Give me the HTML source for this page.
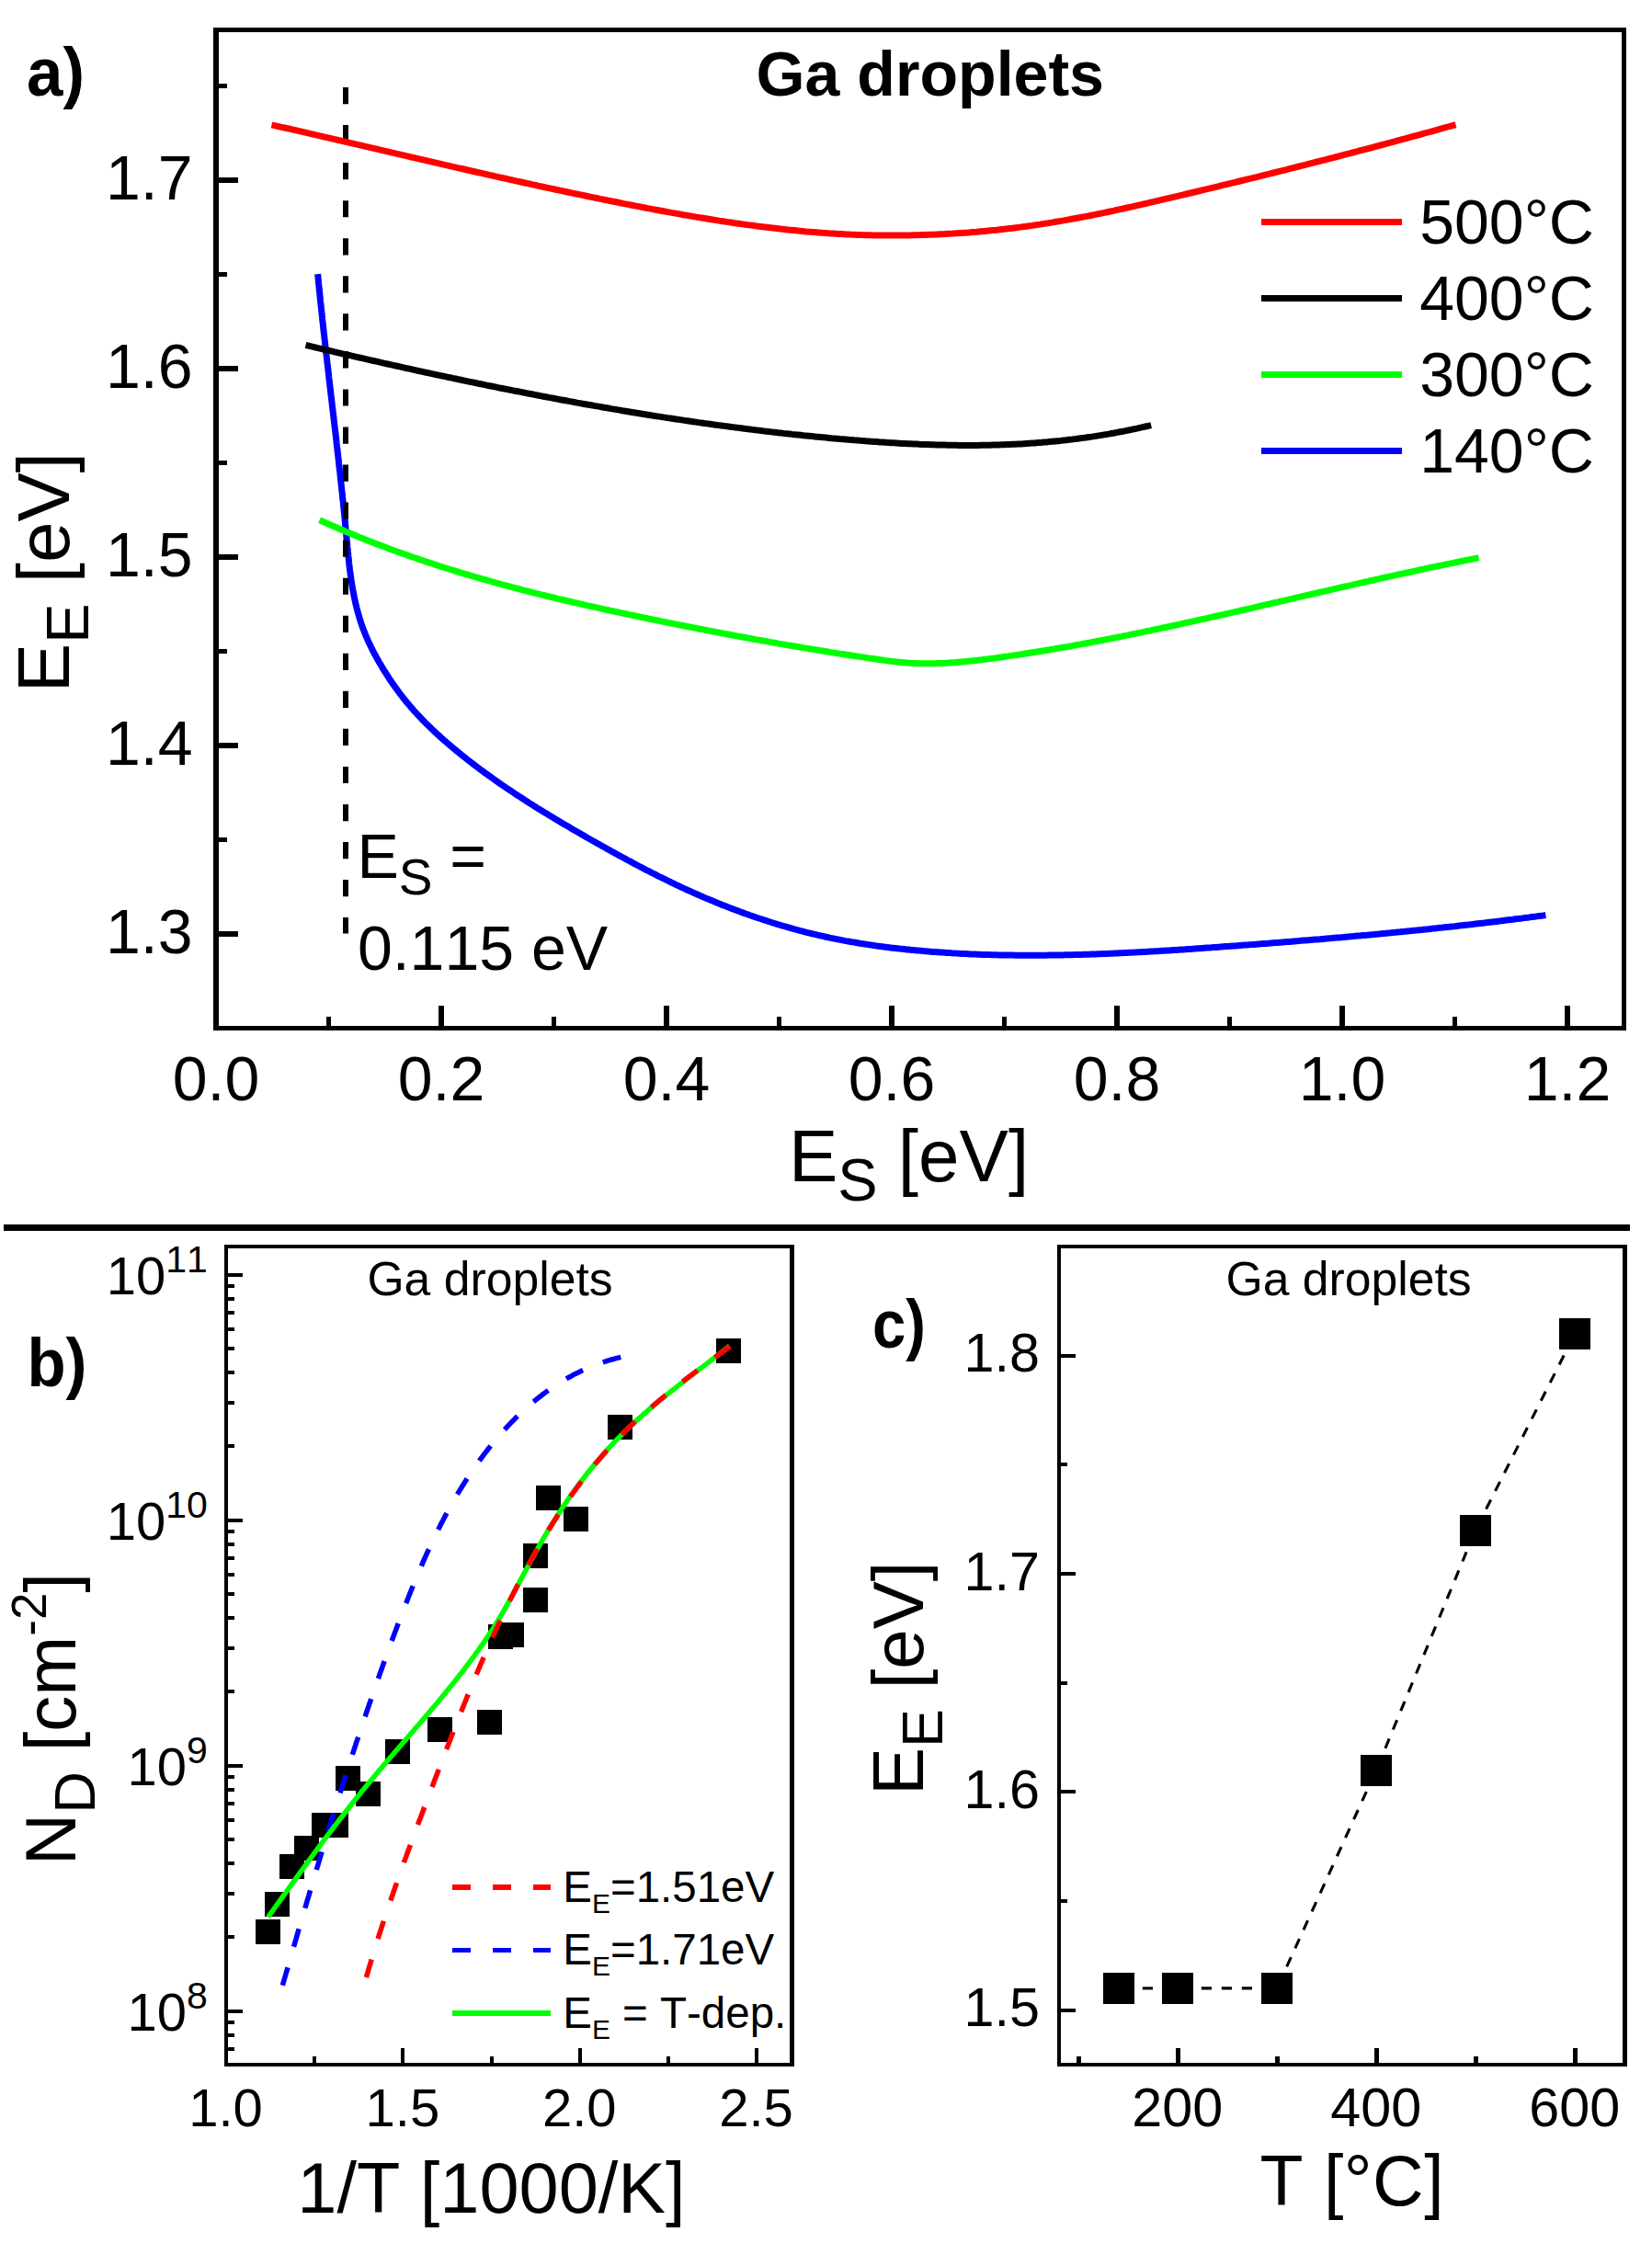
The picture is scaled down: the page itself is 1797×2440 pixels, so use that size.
<!DOCTYPE html>
<html lang="en"><head><meta charset="utf-8"><title>Ga droplets</title>
<style>html,body{margin:0;padding:0;background:#fff}svg text{fill:#000;font-kerning:none;font-variant-ligatures:none}</style></head>
<body>
<svg width="1797" height="2440" viewBox="0 0 1797 2440" style="display:block">
<rect width="1797" height="2440" fill="#fff"/>
<g id="plotA">
<path d="M345.6,298.1 L345.9,300.6 L346.1,303.2 L346.4,305.8 L346.6,308.3 L346.9,310.9 L347.1,313.5 L347.4,316.0 L347.7,318.6 L347.9,321.2 L348.2,323.7 L348.4,326.3 L348.7,328.8 L349.0,331.4 L349.3,334.0 L349.5,336.5 L349.8,339.1 L350.1,341.7 L350.4,344.2 L350.6,346.8 L350.9,349.3 L351.2,351.9 L351.5,354.4 L351.7,357.0 L352.0,359.6 L352.3,362.1 L352.6,364.7 L352.9,367.2 L353.2,369.8 L353.5,372.3 L353.7,374.9 L354.0,377.5 L354.3,380.0 L354.6,382.6 L354.9,385.1 L355.2,387.7 L355.5,390.2 L355.8,392.8 L356.1,395.3 L356.4,397.9 L356.7,400.4 L357.0,403.0 L357.3,405.5 L357.6,408.1 L357.8,410.6 L358.1,413.2 L358.4,415.7 L358.7,418.3 L359.0,420.8 L359.3,423.4 L359.6,426.0 L359.9,428.5 L360.2,431.1 L360.5,433.6 L360.8,436.2 L361.1,438.7 L361.4,441.3 L361.7,443.8 L362.0,446.4 L362.3,448.9 L362.6,451.5 L362.9,454.0 L363.2,456.6 L363.5,459.1 L363.8,461.7 L364.1,464.2 L364.4,466.8 L364.7,469.3 L365.0,471.9 L365.3,474.4 L365.6,477.0 L365.9,479.5 L366.1,482.1 L366.4,484.6 L366.7,487.2 L367.0,489.7 L367.3,492.3 L367.6,494.9 L367.9,497.4 L368.2,500.0 L368.5,502.5 L368.7,505.1 L369.0,507.6 L369.3,510.2 L369.6,512.7 L369.9,515.3 L370.2,517.9 L370.4,520.4 L370.7,523.0 L371.0,525.5 L371.3,528.1 L371.5,530.7 L371.8,533.2 L372.1,535.8 L372.4,538.3 L372.6,540.9 L372.9,543.5 L373.2,546.0 L373.4,548.6 L373.7,551.1 L373.9,553.7 L374.2,556.3 L374.5,558.8 L374.7,561.4 L375.0,564.0 L375.2,566.5 L375.5,569.1 L375.7,571.7 L376.0,574.2 L376.2,576.8 L376.5,579.4 L376.7,581.9 L376.9,584.5 L377.2,587.1 L377.4,589.7 L377.7,592.2 L377.9,594.8 L378.2,597.4 L378.4,599.9 L378.7,602.5 L378.9,605.1 L379.2,607.7 L379.5,610.2 L379.7,612.8 L380.0,615.3 L380.3,617.9 L380.6,620.5 L381.0,623.0 L381.3,625.6 L381.7,628.1 L382.0,630.7 L382.4,633.2 L382.8,635.7 L383.2,638.3 L383.6,640.8 L384.1,643.3 L384.6,645.8 L385.1,648.3 L385.6,650.9 L386.1,653.4 L386.7,655.9 L387.3,658.4 L387.9,660.8 L388.5,663.3 L389.2,665.8 L389.9,668.3 L390.6,670.7 L391.3,673.2 L392.1,675.6 L392.9,678.0 L393.7,680.5 L394.6,682.9 L395.5,685.3 L396.4,687.7 L397.4,690.1 L398.3,692.4 L399.4,694.8 L400.4,697.1 L401.5,699.5 L402.6,701.8 L403.7,704.1 L404.9,706.4 L406.0,708.7 L407.2,711.0 L408.5,713.2 L409.7,715.5 L411.0,717.8 L412.2,720.0 L413.5,722.2 L414.9,724.4 L416.2,726.7 L417.5,728.9 L418.9,731.0 L420.3,733.2 L421.7,735.4 L423.1,737.6 L424.5,739.7 L425.9,741.8 L427.4,744.0 L428.9,746.1 L430.4,748.2 L431.9,750.2 L433.4,752.3 L434.9,754.4 L436.5,756.4 L438.1,758.5 L439.7,760.5 L441.3,762.5 L442.9,764.5 L444.6,766.4 L446.2,768.4 L447.9,770.3 L449.6,772.3 L451.3,774.2 L453.1,776.1 L454.8,778.0 L456.6,779.8 L458.3,781.7 L460.1,783.5 L461.9,785.4 L463.7,787.2 L465.6,789.0 L467.4,790.8 L469.3,792.6 L471.1,794.4 L473.0,796.1 L474.9,797.9 L476.8,799.6 L478.7,801.4 L480.6,803.1 L482.5,804.8 L484.5,806.5 L486.4,808.2 L488.4,809.9 L490.3,811.5 L492.3,813.2 L494.3,814.8 L496.3,816.5 L498.2,818.1 L500.2,819.7 L502.2,821.4 L504.3,823.0 L506.3,824.6 L508.3,826.2 L510.3,827.7 L512.3,829.3 L514.4,830.9 L516.4,832.4 L518.5,834.0 L520.5,835.5 L522.6,837.1 L524.7,838.6 L526.7,840.1 L528.8,841.7 L530.9,843.2 L533.0,844.7 L535.1,846.2 L537.2,847.6 L539.3,849.1 L541.4,850.6 L543.5,852.1 L545.6,853.5 L547.7,855.0 L549.8,856.4 L551.9,857.9 L554.1,859.3 L556.2,860.7 L558.4,862.2 L560.5,863.6 L562.6,865.0 L564.8,866.4 L567.0,867.8 L569.1,869.2 L571.3,870.6 L573.4,872.0 L575.6,873.4 L577.8,874.7 L580.0,876.1 L582.1,877.5 L584.3,878.9 L586.5,880.2 L588.7,881.6 L590.9,882.9 L593.1,884.3 L595.3,885.6 L597.5,886.9 L599.7,888.3 L601.9,889.6 L604.1,890.9 L606.3,892.2 L608.5,893.6 L610.7,894.9 L612.9,896.2 L615.2,897.5 L617.4,898.8 L619.6,900.1 L621.8,901.4 L624.0,902.7 L626.3,904.0 L628.5,905.3 L630.7,906.6 L633.0,907.9 L635.2,909.1 L637.4,910.4 L639.7,911.7 L641.9,913.0 L644.1,914.2 L646.4,915.5 L648.6,916.8 L650.9,918.0 L653.1,919.3 L655.4,920.6 L657.6,921.8 L659.8,923.1 L662.1,924.3 L664.3,925.6 L666.6,926.8 L668.9,928.1 L671.1,929.3 L673.4,930.6 L675.6,931.8 L677.9,933.0 L680.2,934.2 L682.4,935.5 L684.7,936.7 L687.0,937.9 L689.2,939.1 L691.5,940.3 L693.8,941.5 L696.0,942.7 L698.3,943.9 L700.6,945.1 L702.9,946.3 L705.2,947.4 L707.5,948.6 L709.8,949.8 L712.1,950.9 L714.3,952.1 L716.6,953.3 L718.9,954.4 L721.3,955.5 L723.6,956.7 L725.9,957.8 L728.2,958.9 L730.5,960.1 L732.8,961.2 L735.1,962.3 L737.5,963.4 L739.8,964.5 L742.1,965.6 L744.4,966.6 L746.8,967.7 L749.1,968.8 L751.5,969.8 L753.8,970.9 L756.2,971.9 L758.5,973.0 L760.9,974.0 L763.2,975.0 L765.6,976.1 L767.9,977.1 L770.3,978.1 L772.7,979.1 L775.1,980.1 L777.4,981.0 L779.8,982.0 L782.2,983.0 L784.6,983.9 L787.0,984.9 L789.4,985.8 L791.8,986.8 L794.2,987.7 L796.6,988.6 L799.0,989.5 L801.4,990.4 L803.8,991.3 L806.2,992.2 L808.6,993.1 L811.1,994.0 L813.5,994.8 L815.9,995.7 L818.3,996.5 L820.8,997.4 L823.2,998.2 L825.7,999.0 L828.1,999.8 L830.5,1000.6 L833.0,1001.4 L835.4,1002.2 L837.9,1003.0 L840.3,1003.8 L842.8,1004.5 L845.3,1005.3 L847.7,1006.0 L850.2,1006.8 L852.7,1007.5 L855.1,1008.2 L857.6,1008.9 L860.1,1009.6 L862.6,1010.3 L865.0,1011.0 L867.5,1011.7 L870.0,1012.3 L872.5,1013.0 L875.0,1013.6 L877.5,1014.3 L880.0,1014.9 L882.5,1015.5 L885.0,1016.1 L887.5,1016.7 L890.0,1017.3 L892.5,1017.9 L895.0,1018.4 L897.5,1019.0 L900.0,1019.5 L902.5,1020.1 L905.1,1020.6 L907.6,1021.1 L910.1,1021.6 L912.6,1022.1 L915.2,1022.6 L917.7,1023.1 L920.2,1023.6 L922.7,1024.0 L925.3,1024.5 L927.8,1024.9 L930.3,1025.3 L932.9,1025.8 L935.4,1026.2 L938.0,1026.6 L940.5,1027.0 L943.1,1027.4 L945.6,1027.8 L948.1,1028.1 L950.7,1028.5 L953.2,1028.9 L955.8,1029.2 L958.4,1029.6 L960.9,1029.9 L963.5,1030.2 L966.0,1030.6 L968.6,1030.9 L971.1,1031.2 L973.7,1031.5 L976.2,1031.8 L978.8,1032.1 L981.4,1032.3 L983.9,1032.6 L986.5,1032.9 L989.1,1033.1 L991.6,1033.4 L994.2,1033.6 L996.7,1033.9 L999.3,1034.1 L1001.9,1034.3 L1004.4,1034.6 L1007.0,1034.8 L1009.6,1035.0 L1012.1,1035.2 L1014.7,1035.4 L1017.3,1035.6 L1019.8,1035.8 L1022.4,1036.0 L1025.0,1036.1 L1027.5,1036.3 L1030.1,1036.5 L1032.7,1036.6 L1035.2,1036.8 L1037.8,1036.9 L1040.4,1037.1 L1042.9,1037.2 L1045.5,1037.4 L1048.1,1037.5 L1050.6,1037.6 L1053.2,1037.7 L1055.8,1037.9 L1058.3,1038.0 L1060.9,1038.1 L1063.5,1038.2 L1066.0,1038.3 L1068.6,1038.4 L1071.2,1038.4 L1073.7,1038.5 L1076.3,1038.6 L1078.9,1038.7 L1081.4,1038.7 L1084.0,1038.8 L1086.6,1038.9 L1089.2,1038.9 L1091.7,1039.0 L1094.3,1039.0 L1096.9,1039.1 L1099.4,1039.1 L1102.0,1039.1 L1104.6,1039.2 L1107.1,1039.2 L1109.7,1039.2 L1112.3,1039.2 L1114.9,1039.2 L1117.4,1039.2 L1120.0,1039.2 L1122.6,1039.2 L1125.1,1039.2 L1127.7,1039.2 L1130.3,1039.2 L1132.8,1039.2 L1135.4,1039.2 L1138.0,1039.2 L1140.6,1039.1 L1143.1,1039.1 L1145.7,1039.1 L1148.3,1039.0 L1150.8,1039.0 L1153.4,1038.9 L1156.0,1038.9 L1158.5,1038.8 L1161.1,1038.8 L1163.7,1038.7 L1166.3,1038.7 L1168.8,1038.6 L1171.4,1038.5 L1174.0,1038.5 L1176.5,1038.4 L1179.1,1038.3 L1181.7,1038.2 L1184.3,1038.2 L1186.8,1038.1 L1189.4,1038.0 L1192.0,1037.9 L1194.5,1037.8 L1197.1,1037.7 L1199.7,1037.6 L1202.3,1037.5 L1204.8,1037.4 L1207.4,1037.3 L1210.0,1037.2 L1212.5,1037.1 L1215.1,1037.0 L1217.7,1036.8 L1220.2,1036.7 L1222.8,1036.6 L1225.4,1036.5 L1228.0,1036.3 L1230.5,1036.2 L1233.1,1036.1 L1235.7,1035.9 L1238.2,1035.8 L1240.8,1035.7 L1243.4,1035.5 L1246.0,1035.4 L1248.5,1035.2 L1251.1,1035.1 L1253.7,1035.0 L1256.2,1034.8 L1258.8,1034.7 L1261.4,1034.5 L1263.9,1034.3 L1266.5,1034.2 L1269.1,1034.0 L1271.7,1033.9 L1274.2,1033.7 L1276.8,1033.5 L1279.4,1033.4 L1281.9,1033.2 L1284.5,1033.0 L1287.1,1032.9 L1289.6,1032.7 L1292.2,1032.5 L1294.8,1032.4 L1297.3,1032.2 L1299.9,1032.0 L1302.5,1031.8 L1305.1,1031.7 L1307.6,1031.5 L1310.2,1031.3 L1312.8,1031.1 L1315.3,1030.9 L1317.9,1030.8 L1320.5,1030.6 L1323.0,1030.4 L1325.6,1030.2 L1328.2,1030.0 L1330.7,1029.8 L1333.3,1029.6 L1335.9,1029.5 L1338.4,1029.3 L1341.0,1029.1 L1343.6,1028.9 L1346.1,1028.7 L1348.7,1028.5 L1351.3,1028.3 L1353.8,1028.1 L1356.4,1027.9 L1359.0,1027.7 L1361.5,1027.6 L1364.1,1027.4 L1366.7,1027.2 L1369.2,1027.0 L1371.8,1026.8 L1374.4,1026.6 L1376.9,1026.4 L1379.5,1026.2 L1382.1,1026.0 L1384.6,1025.8 L1387.2,1025.6 L1389.8,1025.4 L1392.3,1025.2 L1394.9,1025.0 L1397.4,1024.8 L1400.0,1024.6 L1402.6,1024.4 L1405.1,1024.2 L1407.7,1024.0 L1410.3,1023.8 L1412.8,1023.6 L1415.4,1023.3 L1418.0,1023.1 L1420.5,1022.9 L1423.1,1022.7 L1425.6,1022.5 L1428.2,1022.3 L1430.8,1022.1 L1433.3,1021.9 L1435.9,1021.7 L1438.5,1021.4 L1441.0,1021.2 L1443.6,1021.0 L1446.1,1020.8 L1448.7,1020.6 L1451.3,1020.3 L1453.8,1020.1 L1456.4,1019.9 L1459.0,1019.7 L1461.5,1019.5 L1464.1,1019.2 L1466.6,1019.0 L1469.2,1018.8 L1471.8,1018.6 L1474.3,1018.3 L1476.9,1018.1 L1479.4,1017.9 L1482.0,1017.6 L1484.6,1017.4 L1487.1,1017.2 L1489.7,1016.9 L1492.2,1016.7 L1494.8,1016.5 L1497.4,1016.2 L1499.9,1016.0 L1502.5,1015.7 L1505.0,1015.5 L1507.6,1015.3 L1510.2,1015.0 L1512.7,1014.8 L1515.3,1014.5 L1517.8,1014.3 L1520.4,1014.0 L1523.0,1013.8 L1525.5,1013.5 L1528.1,1013.3 L1530.6,1013.0 L1533.2,1012.8 L1535.7,1012.5 L1538.3,1012.2 L1540.9,1012.0 L1543.4,1011.7 L1546.0,1011.5 L1548.5,1011.2 L1551.1,1010.9 L1553.7,1010.7 L1556.2,1010.4 L1558.8,1010.1 L1561.3,1009.9 L1563.9,1009.6 L1566.4,1009.3 L1569.0,1009.1 L1571.6,1008.8 L1574.1,1008.5 L1576.7,1008.2 L1579.2,1007.9 L1581.8,1007.7 L1584.3,1007.4 L1586.9,1007.1 L1589.5,1006.8 L1592.0,1006.5 L1594.6,1006.2 L1597.1,1006.0 L1599.7,1005.7 L1602.2,1005.4 L1604.8,1005.1 L1607.3,1004.8 L1609.9,1004.5 L1612.5,1004.2 L1615.0,1003.9 L1617.6,1003.6 L1620.1,1003.3 L1622.7,1003.0 L1625.2,1002.7 L1627.8,1002.4 L1630.3,1002.1 L1632.9,1001.7 L1635.4,1001.4 L1638.0,1001.1 L1640.6,1000.8 L1643.1,1000.5 L1645.7,1000.2 L1648.2,999.8 L1650.8,999.5 L1653.3,999.2 L1655.9,998.9 L1658.4,998.5 L1661.0,998.2 L1663.5,997.9 L1666.1,997.5 L1668.7,997.2 L1671.2,996.9 L1673.8,996.5 L1676.3,996.2 L1678.9,995.9 L1681.4,995.5" fill="none" stroke="#0000ff" stroke-width="7.0" stroke-linejoin="round"/>
<line x1="376" y1="95" x2="376" y2="1015.6" stroke="#000" stroke-width="6" stroke-dasharray="18.2 22.85"/>
<path d="M295.5,135.8 L299.8,136.8 L304.1,137.8 L308.4,138.8 L312.7,139.7 L317.0,140.7 L321.3,141.7 L325.7,142.7 L330.0,143.7 L334.3,144.7 L338.6,145.7 L342.9,146.7 L347.2,147.7 L351.5,148.7 L355.8,149.6 L360.1,150.6 L364.4,151.6 L368.7,152.6 L373.0,153.6 L377.3,154.6 L381.7,155.6 L386.0,156.6 L390.3,157.6 L394.6,158.6 L398.9,159.6 L403.2,160.6 L407.5,161.6 L411.8,162.7 L416.1,163.7 L420.4,164.7 L424.7,165.7 L429.0,166.7 L433.3,167.7 L437.7,168.7 L442.0,169.7 L446.3,170.7 L450.6,171.6 L454.9,172.6 L459.2,173.6 L463.5,174.6 L467.8,175.6 L472.1,176.6 L476.4,177.6 L480.7,178.6 L485.0,179.6 L489.3,180.6 L493.7,181.6 L498.0,182.6 L502.3,183.5 L506.6,184.5 L510.9,185.5 L515.2,186.5 L519.5,187.5 L523.8,188.4 L528.1,189.4 L532.4,190.4 L536.7,191.3 L541.0,192.3 L545.3,193.3 L549.7,194.2 L554.0,195.2 L558.3,196.1 L562.6,197.1 L566.9,198.0 L571.2,199.0 L575.5,199.9 L579.8,200.9 L584.1,201.8 L588.4,202.8 L592.7,203.7 L597.0,204.6 L601.3,205.5 L605.7,206.5 L610.0,207.4 L614.3,208.3 L618.6,209.2 L622.9,210.1 L627.2,211.0 L631.5,211.9 L635.8,212.8 L640.1,213.7 L644.4,214.6 L648.7,215.5 L653.0,216.4 L657.3,217.2 L661.7,218.1 L666.0,219.0 L670.3,219.8 L674.6,220.7 L678.9,221.6 L683.2,222.4 L687.5,223.2 L691.8,224.1 L696.1,224.9 L700.4,225.7 L704.7,226.6 L709.0,227.4 L713.3,228.2 L717.7,229.0 L722.0,229.8 L726.3,230.6 L730.6,231.4 L734.9,232.1 L739.2,232.9 L743.5,233.7 L747.8,234.4 L752.1,235.1 L756.4,235.9 L760.7,236.6 L765.0,237.3 L769.3,238.0 L773.7,238.7 L778.0,239.4 L782.3,240.1 L786.6,240.7 L790.9,241.4 L795.2,242.0 L799.5,242.7 L803.8,243.3 L808.1,243.9 L812.4,244.5 L816.7,245.1 L821.0,245.6 L825.3,246.2 L829.7,246.8 L834.0,247.3 L838.3,247.8 L842.6,248.3 L846.9,248.8 L851.2,249.3 L855.5,249.8 L859.8,250.2 L864.1,250.6 L868.4,251.1 L872.7,251.5 L877.0,251.9 L881.3,252.2 L885.7,252.6 L890.0,252.9 L894.3,253.3 L898.6,253.6 L902.9,253.9 L907.2,254.1 L911.5,254.4 L915.8,254.6 L920.1,254.9 L924.4,255.1 L928.7,255.2 L933.0,255.4 L937.3,255.6 L941.7,255.7 L946.0,255.8 L950.3,255.9 L954.6,256.0 L958.9,256.0 L963.2,256.1 L967.5,256.1 L971.8,256.1 L976.1,256.1 L980.4,256.0 L984.7,256.0 L989.0,255.9 L993.3,255.8 L997.7,255.7 L1002.0,255.6 L1006.3,255.5 L1010.6,255.3 L1014.9,255.2 L1019.2,255.0 L1023.5,254.8 L1027.8,254.6 L1032.1,254.3 L1036.4,254.1 L1040.7,253.8 L1045.0,253.5 L1049.3,253.2 L1053.7,252.9 L1058.0,252.5 L1062.3,252.2 L1066.6,251.8 L1070.9,251.4 L1075.2,251.0 L1079.5,250.6 L1083.8,250.2 L1088.1,249.7 L1092.4,249.2 L1096.7,248.7 L1101.0,248.2 L1105.3,247.7 L1109.7,247.1 L1114.0,246.6 L1118.3,246.0 L1122.6,245.4 L1126.9,244.7 L1131.2,244.1 L1135.5,243.4 L1139.8,242.8 L1144.1,242.1 L1148.4,241.3 L1152.7,240.6 L1157.0,239.9 L1161.3,239.1 L1165.7,238.3 L1170.0,237.5 L1174.3,236.7 L1178.6,235.9 L1182.9,235.1 L1187.2,234.2 L1191.5,233.4 L1195.8,232.5 L1200.1,231.6 L1204.4,230.7 L1208.7,229.8 L1213.0,228.8 L1217.3,227.9 L1221.7,227.0 L1226.0,226.0 L1230.3,225.1 L1234.6,224.1 L1238.9,223.1 L1243.2,222.1 L1247.5,221.2 L1251.8,220.2 L1256.1,219.2 L1260.4,218.2 L1264.7,217.2 L1269.0,216.1 L1273.3,215.1 L1277.7,214.1 L1282.0,213.1 L1286.3,212.1 L1290.6,211.0 L1294.9,210.0 L1299.2,209.0 L1303.5,208.0 L1307.8,206.9 L1312.1,205.9 L1316.4,204.9 L1320.7,203.8 L1325.0,202.8 L1329.3,201.7 L1333.7,200.7 L1338.0,199.6 L1342.3,198.6 L1346.6,197.5 L1350.9,196.5 L1355.2,195.4 L1359.5,194.4 L1363.8,193.3 L1368.1,192.3 L1372.4,191.2 L1376.7,190.1 L1381.0,189.1 L1385.3,188.0 L1389.7,186.9 L1394.0,185.8 L1398.3,184.8 L1402.6,183.7 L1406.9,182.6 L1411.2,181.5 L1415.5,180.4 L1419.8,179.3 L1424.1,178.2 L1428.4,177.1 L1432.7,176.0 L1437.0,174.9 L1441.3,173.8 L1445.7,172.7 L1450.0,171.6 L1454.3,170.5 L1458.6,169.4 L1462.9,168.2 L1467.2,167.1 L1471.5,166.0 L1475.8,164.9 L1480.1,163.7 L1484.4,162.6 L1488.7,161.5 L1493.0,160.3 L1497.3,159.2 L1501.7,158.0 L1506.0,156.9 L1510.3,155.7 L1514.6,154.6 L1518.9,153.4 L1523.2,152.2 L1527.5,151.1 L1531.8,149.9 L1536.1,148.7 L1540.4,147.6 L1544.7,146.4 L1549.0,145.2 L1553.3,144.0 L1557.7,142.8 L1562.0,141.6 L1566.3,140.4 L1570.6,139.2 L1574.9,138.0 L1579.2,136.8 L1583.5,135.6" fill="none" stroke="#ff0000" stroke-width="7.0" stroke-linejoin="round"/>
<path d="M332.5,375.5 L335.6,376.2 L338.7,376.9 L341.7,377.6 L344.8,378.4 L347.9,379.1 L351.0,379.8 L354.0,380.5 L357.1,381.2 L360.2,381.9 L363.3,382.7 L366.3,383.4 L369.4,384.1 L372.5,384.8 L375.6,385.5 L378.6,386.2 L381.7,386.9 L384.8,387.6 L387.9,388.3 L390.9,389.0 L394.0,389.7 L397.1,390.4 L400.2,391.1 L403.2,391.8 L406.3,392.5 L409.4,393.2 L412.5,393.9 L415.5,394.6 L418.6,395.3 L421.7,396.0 L424.8,396.7 L427.9,397.4 L430.9,398.0 L434.0,398.7 L437.1,399.4 L440.2,400.1 L443.2,400.8 L446.3,401.4 L449.4,402.1 L452.5,402.8 L455.5,403.5 L458.6,404.1 L461.7,404.8 L464.8,405.5 L467.8,406.1 L470.9,406.8 L474.0,407.5 L477.1,408.1 L480.1,408.8 L483.2,409.4 L486.3,410.1 L489.4,410.7 L492.4,411.4 L495.5,412.0 L498.6,412.7 L501.7,413.3 L504.8,414.0 L507.8,414.6 L510.9,415.3 L514.0,415.9 L517.1,416.5 L520.1,417.2 L523.2,417.8 L526.3,418.4 L529.4,419.1 L532.4,419.7 L535.5,420.3 L538.6,420.9 L541.7,421.6 L544.7,422.2 L547.8,422.8 L550.9,423.4 L554.0,424.0 L557.0,424.6 L560.1,425.2 L563.2,425.8 L566.3,426.4 L569.3,427.0 L572.4,427.6 L575.5,428.2 L578.6,428.8 L581.6,429.4 L584.7,430.0 L587.8,430.6 L590.9,431.2 L594.0,431.8 L597.0,432.4 L600.1,432.9 L603.2,433.5 L606.3,434.1 L609.3,434.7 L612.4,435.2 L615.5,435.8 L618.6,436.4 L621.6,436.9 L624.7,437.5 L627.8,438.1 L630.9,438.6 L633.9,439.2 L637.0,439.7 L640.1,440.3 L643.2,440.8 L646.2,441.4 L649.3,441.9 L652.4,442.4 L655.5,443.0 L658.5,443.5 L661.6,444.0 L664.7,444.6 L667.8,445.1 L670.9,445.6 L673.9,446.1 L677.0,446.7 L680.1,447.2 L683.2,447.7 L686.2,448.2 L689.3,448.7 L692.4,449.2 L695.5,449.7 L698.5,450.2 L701.6,450.7 L704.7,451.2 L707.8,451.7 L710.8,452.2 L713.9,452.7 L717.0,453.1 L720.1,453.6 L723.1,454.1 L726.2,454.6 L729.3,455.0 L732.4,455.5 L735.4,456.0 L738.5,456.4 L741.6,456.9 L744.7,457.4 L747.7,457.8 L750.8,458.3 L753.9,458.7 L757.0,459.1 L760.1,459.6 L763.1,460.0 L766.2,460.5 L769.3,460.9 L772.4,461.3 L775.4,461.8 L778.5,462.2 L781.6,462.6 L784.7,463.0 L787.7,463.4 L790.8,463.8 L793.9,464.2 L797.0,464.6 L800.0,465.0 L803.1,465.4 L806.2,465.8 L809.3,466.2 L812.3,466.6 L815.4,467.0 L818.5,467.4 L821.6,467.8 L824.6,468.1 L827.7,468.5 L830.8,468.9 L833.9,469.2 L837.0,469.6 L840.0,470.0 L843.1,470.3 L846.2,470.7 L849.3,471.0 L852.3,471.4 L855.4,471.7 L858.5,472.0 L861.6,472.4 L864.6,472.7 L867.7,473.0 L870.8,473.3 L873.9,473.7 L876.9,474.0 L880.0,474.3 L883.1,474.6 L886.2,474.9 L889.2,475.2 L892.3,475.5 L895.4,475.8 L898.5,476.1 L901.5,476.4 L904.6,476.7 L907.7,476.9 L910.8,477.2 L913.8,477.5 L916.9,477.7 L920.0,478.0 L923.1,478.3 L926.2,478.5 L929.2,478.8 L932.3,479.0 L935.4,479.3 L938.5,479.5 L941.5,479.8 L944.6,480.0 L947.7,480.2 L950.8,480.4 L953.8,480.6 L956.9,480.9 L960.0,481.1 L963.1,481.3 L966.1,481.5 L969.2,481.7 L972.3,481.8 L975.4,482.0 L978.4,482.2 L981.5,482.4 L984.6,482.5 L987.7,482.7 L990.7,482.8 L993.8,483.0 L996.9,483.1 L1000.0,483.3 L1003.1,483.4 L1006.1,483.5 L1009.2,483.6 L1012.3,483.7 L1015.4,483.8 L1018.4,483.9 L1021.5,484.0 L1024.6,484.1 L1027.7,484.1 L1030.7,484.2 L1033.8,484.3 L1036.9,484.3 L1040.0,484.3 L1043.0,484.4 L1046.1,484.4 L1049.2,484.4 L1052.3,484.4 L1055.3,484.4 L1058.4,484.4 L1061.5,484.4 L1064.6,484.4 L1067.6,484.3 L1070.7,484.3 L1073.8,484.2 L1076.9,484.2 L1079.9,484.1 L1083.0,484.0 L1086.1,483.9 L1089.2,483.8 L1092.3,483.7 L1095.3,483.6 L1098.4,483.5 L1101.5,483.3 L1104.6,483.2 L1107.6,483.0 L1110.7,482.9 L1113.8,482.7 L1116.9,482.5 L1119.9,482.3 L1123.0,482.1 L1126.1,481.9 L1129.2,481.6 L1132.2,481.4 L1135.3,481.1 L1138.4,480.9 L1141.5,480.6 L1144.5,480.3 L1147.6,480.0 L1150.7,479.7 L1153.8,479.4 L1156.8,479.0 L1159.9,478.7 L1163.0,478.3 L1166.1,478.0 L1169.2,477.6 L1172.2,477.2 L1175.3,476.8 L1178.4,476.4 L1181.5,476.0 L1184.5,475.5 L1187.6,475.1 L1190.7,474.6 L1193.8,474.1 L1196.8,473.6 L1199.9,473.1 L1203.0,472.6 L1206.1,472.1 L1209.1,471.5 L1212.2,471.0 L1215.3,470.4 L1218.4,469.8 L1221.4,469.3 L1224.5,468.6 L1227.6,468.0 L1230.7,467.4 L1233.7,466.7 L1236.8,466.1 L1239.9,465.4 L1243.0,464.7 L1246.0,464.0 L1249.1,463.3 L1252.2,462.6" fill="none" stroke="#000" stroke-width="7.0" stroke-linejoin="round"/>
<path d="M347.6,565.7 L350.8,567.2 L353.9,568.6 L357.1,570.0 L360.2,571.4 L363.4,572.8 L366.6,574.1 L369.7,575.5 L372.9,576.8 L376.0,578.2 L379.2,579.5 L382.4,580.8 L385.5,582.1 L388.7,583.4 L391.8,584.7 L395.0,585.9 L398.2,587.2 L401.3,588.4 L404.5,589.7 L407.6,590.9 L410.8,592.1 L414.0,593.3 L417.1,594.5 L420.3,595.7 L423.4,596.9 L426.6,598.1 L429.8,599.2 L432.9,600.4 L436.1,601.5 L439.3,602.6 L442.4,603.7 L445.6,604.9 L448.7,606.0 L451.9,607.0 L455.1,608.1 L458.2,609.2 L461.4,610.3 L464.5,611.3 L467.7,612.4 L470.9,613.4 L474.0,614.4 L477.2,615.5 L480.3,616.5 L483.5,617.5 L486.7,618.5 L489.8,619.5 L493.0,620.4 L496.1,621.4 L499.3,622.4 L502.5,623.3 L505.6,624.3 L508.8,625.2 L511.9,626.2 L515.1,627.1 L518.3,628.0 L521.4,628.9 L524.6,629.8 L527.7,630.7 L530.9,631.6 L534.1,632.5 L537.2,633.4 L540.4,634.3 L543.5,635.1 L546.7,636.0 L549.9,636.9 L553.0,637.7 L556.2,638.5 L559.3,639.4 L562.5,640.2 L565.7,641.0 L568.8,641.9 L572.0,642.7 L575.1,643.5 L578.3,644.3 L581.5,645.1 L584.6,645.9 L587.8,646.6 L591.0,647.4 L594.1,648.2 L597.3,649.0 L600.4,649.7 L603.6,650.5 L606.8,651.3 L609.9,652.0 L613.1,652.7 L616.2,653.5 L619.4,654.2 L622.6,655.0 L625.7,655.7 L628.9,656.4 L632.0,657.1 L635.2,657.9 L638.4,658.6 L641.5,659.3 L644.7,660.0 L647.8,660.7 L651.0,661.4 L654.2,662.1 L657.3,662.8 L660.5,663.5 L663.6,664.2 L666.8,664.8 L670.0,665.5 L673.1,666.2 L676.3,666.9 L679.4,667.5 L682.6,668.2 L685.8,668.9 L688.9,669.5 L692.1,670.2 L695.2,670.9 L698.4,671.5 L701.6,672.2 L704.7,672.8 L707.9,673.5 L711.0,674.1 L714.2,674.8 L717.4,675.4 L720.5,676.1 L723.7,676.7 L726.8,677.4 L730.0,678.0 L733.2,678.6 L736.3,679.3 L739.5,679.9 L742.7,680.5 L745.8,681.2 L749.0,681.8 L752.1,682.4 L755.3,683.0 L758.5,683.7 L761.6,684.3 L764.8,684.9 L767.9,685.5 L771.1,686.1 L774.3,686.7 L777.4,687.3 L780.6,687.9 L783.7,688.5 L786.9,689.1 L790.1,689.7 L793.2,690.3 L796.4,690.9 L799.5,691.5 L802.7,692.1 L805.9,692.7 L809.0,693.3 L812.2,693.8 L815.3,694.4 L818.5,695.0 L821.7,695.6 L824.8,696.1 L828.0,696.7 L831.1,697.3 L834.3,697.8 L837.5,698.4 L840.6,698.9 L843.8,699.5 L846.9,700.1 L850.1,700.6 L853.3,701.1 L856.4,701.7 L859.6,702.2 L862.7,702.8 L865.9,703.3 L869.1,703.8 L872.2,704.4 L875.4,704.9 L878.5,705.4 L881.7,706.0 L884.9,706.5 L888.0,707.0 L891.2,707.5 L894.3,708.0 L897.5,708.5 L900.7,709.0 L903.8,709.6 L907.0,710.1 L910.2,710.6 L913.3,711.1 L916.5,711.5 L919.6,712.0 L922.8,712.5 L926.0,713.0 L929.1,713.5 L932.3,714.0 L935.4,714.4 L938.6,714.9 L941.8,715.4 L944.9,715.9 L948.1,716.3 L951.2,716.8 L954.4,717.2 L957.6,717.7 L960.7,718.1 L963.9,718.6 L967.0,719.0 L970.2,719.4 L973.4,719.7 L976.5,720.1 L979.7,720.4 L982.8,720.7 L986.0,721.0 L989.2,721.2 L992.3,721.4 L995.5,721.6 L998.6,721.7 L1001.8,721.8 L1005.0,721.8 L1008.1,721.8 L1011.3,721.8 L1014.4,721.8 L1017.6,721.7 L1020.8,721.6 L1023.9,721.5 L1027.1,721.4 L1030.2,721.2 L1033.4,721.0 L1036.6,720.8 L1039.7,720.6 L1042.9,720.3 L1046.0,720.0 L1049.2,719.7 L1052.4,719.4 L1055.5,719.1 L1058.7,718.8 L1061.9,718.4 L1065.0,718.1 L1068.2,717.7 L1071.3,717.3 L1074.5,716.9 L1077.7,716.5 L1080.8,716.1 L1084.0,715.6 L1087.1,715.2 L1090.3,714.8 L1093.5,714.3 L1096.6,713.9 L1099.8,713.4 L1102.9,712.9 L1106.1,712.5 L1109.3,712.0 L1112.4,711.5 L1115.6,711.0 L1118.7,710.5 L1121.9,710.0 L1125.1,709.5 L1128.2,709.0 L1131.4,708.5 L1134.5,708.0 L1137.7,707.5 L1140.9,707.0 L1144.0,706.4 L1147.2,705.9 L1150.3,705.3 L1153.5,704.8 L1156.7,704.2 L1159.8,703.7 L1163.0,703.1 L1166.1,702.6 L1169.3,702.0 L1172.5,701.4 L1175.6,700.9 L1178.8,700.3 L1181.9,699.7 L1185.1,699.1 L1188.3,698.5 L1191.4,697.9 L1194.6,697.3 L1197.7,696.7 L1200.9,696.1 L1204.1,695.5 L1207.2,694.9 L1210.4,694.2 L1213.5,693.6 L1216.7,693.0 L1219.9,692.4 L1223.0,691.7 L1226.2,691.1 L1229.4,690.4 L1232.5,689.8 L1235.7,689.2 L1238.8,688.5 L1242.0,687.9 L1245.2,687.2 L1248.3,686.5 L1251.5,685.9 L1254.6,685.2 L1257.8,684.5 L1261.0,683.9 L1264.1,683.2 L1267.3,682.5 L1270.4,681.8 L1273.6,681.2 L1276.8,680.5 L1279.9,679.8 L1283.1,679.1 L1286.2,678.4 L1289.4,677.7 L1292.6,677.0 L1295.7,676.3 L1298.9,675.6 L1302.0,674.9 L1305.2,674.2 L1308.4,673.5 L1311.5,672.8 L1314.7,672.1 L1317.8,671.4 L1321.0,670.7 L1324.2,670.0 L1327.3,669.3 L1330.5,668.6 L1333.6,667.8 L1336.8,667.1 L1340.0,666.4 L1343.1,665.7 L1346.3,665.0 L1349.4,664.2 L1352.6,663.5 L1355.8,662.8 L1358.9,662.1 L1362.1,661.3 L1365.2,660.6 L1368.4,659.9 L1371.6,659.2 L1374.7,658.4 L1377.9,657.7 L1381.1,657.0 L1384.2,656.2 L1387.4,655.5 L1390.5,654.8 L1393.7,654.0 L1396.9,653.3 L1400.0,652.6 L1403.2,651.9 L1406.3,651.1 L1409.5,650.4 L1412.7,649.7 L1415.8,648.9 L1419.0,648.2 L1422.1,647.5 L1425.3,646.7 L1428.5,646.0 L1431.6,645.3 L1434.8,644.5 L1437.9,643.8 L1441.1,643.1 L1444.3,642.4 L1447.4,641.6 L1450.6,640.9 L1453.7,640.2 L1456.9,639.4 L1460.1,638.7 L1463.2,638.0 L1466.4,637.3 L1469.5,636.6 L1472.7,635.8 L1475.9,635.1 L1479.0,634.4 L1482.2,633.7 L1485.3,633.0 L1488.5,632.3 L1491.7,631.5 L1494.8,630.8 L1498.0,630.1 L1501.1,629.4 L1504.3,628.7 L1507.5,628.0 L1510.6,627.3 L1513.8,626.6 L1516.9,625.9 L1520.1,625.2 L1523.3,624.5 L1526.4,623.8 L1529.6,623.1 L1532.8,622.5 L1535.9,621.8 L1539.1,621.1 L1542.2,620.4 L1545.4,619.7 L1548.6,619.1 L1551.7,618.4 L1554.9,617.7 L1558.0,617.0 L1561.2,616.4 L1564.4,615.7 L1567.5,615.1 L1570.7,614.4 L1573.8,613.8 L1577.0,613.1 L1580.2,612.5 L1583.3,611.8 L1586.5,611.2 L1589.6,610.5 L1592.8,609.9 L1596.0,609.3 L1599.1,608.6 L1602.3,608.0 L1605.4,607.4 L1608.6,606.8" fill="none" stroke="#00ff00" stroke-width="7.0" stroke-linejoin="round"/>
<g stroke="#000" fill="none" shape-rendering="crispEdges">
<path d="M232,30H1769V1121H232Z M238,35V1116H1764V35Z" fill="#000" stroke="none" fill-rule="evenodd"/>
<line x1="357.5" y1="1118.8" x2="357.5" y2="1106.3" stroke-width="5.0"/>
<line x1="480.0" y1="1118.8" x2="480.0" y2="1094.3" stroke-width="6.0"/>
<line x1="602.5" y1="1118.8" x2="602.5" y2="1106.3" stroke-width="5.0"/>
<line x1="725.0" y1="1118.8" x2="725.0" y2="1094.3" stroke-width="6.0"/>
<line x1="847.5" y1="1118.8" x2="847.5" y2="1106.3" stroke-width="5.0"/>
<line x1="970.0" y1="1118.8" x2="970.0" y2="1094.3" stroke-width="6.0"/>
<line x1="1092.5" y1="1118.8" x2="1092.5" y2="1106.3" stroke-width="5.0"/>
<line x1="1215.0" y1="1118.8" x2="1215.0" y2="1094.3" stroke-width="6.0"/>
<line x1="1337.5" y1="1118.8" x2="1337.5" y2="1106.3" stroke-width="5.0"/>
<line x1="1460.0" y1="1118.8" x2="1460.0" y2="1094.3" stroke-width="6.0"/>
<line x1="1582.5" y1="1118.8" x2="1582.5" y2="1106.3" stroke-width="5.0"/>
<line x1="1705.0" y1="1118.8" x2="1705.0" y2="1094.3" stroke-width="6.0"/>
<line x1="235.2" y1="1016.0" x2="259.2" y2="1016.0" stroke-width="6.0"/>
<line x1="235.2" y1="913.5" x2="247.2" y2="913.5" stroke-width="5.0"/>
<line x1="235.2" y1="811.0" x2="259.2" y2="811.0" stroke-width="6.0"/>
<line x1="235.2" y1="708.5" x2="247.2" y2="708.5" stroke-width="5.0"/>
<line x1="235.2" y1="606.0" x2="259.2" y2="606.0" stroke-width="6.0"/>
<line x1="235.2" y1="503.5" x2="247.2" y2="503.5" stroke-width="5.0"/>
<line x1="235.2" y1="401.0" x2="259.2" y2="401.0" stroke-width="6.0"/>
<line x1="235.2" y1="298.5" x2="247.2" y2="298.5" stroke-width="5.0"/>
<line x1="235.2" y1="196.0" x2="259.2" y2="196.0" stroke-width="6.0"/>
<line x1="235.2" y1="93.5" x2="247.2" y2="93.5" stroke-width="5.0"/>
</g>
<g font-family='"Liberation Sans", sans-serif' font-size="68" fill="#000">
<text x="235.0" y="1196.5" text-anchor="middle">0.0</text>
<text x="480.0" y="1196.5" text-anchor="middle">0.2</text>
<text x="725.0" y="1196.5" text-anchor="middle">0.4</text>
<text x="970.0" y="1196.5" text-anchor="middle">0.6</text>
<text x="1215.0" y="1196.5" text-anchor="middle">0.8</text>
<text x="1460.0" y="1196.5" text-anchor="middle">1.0</text>
<text x="1705.0" y="1196.5" text-anchor="middle">1.2</text>
<text x="209.5" y="1037.0" text-anchor="end">1.3</text>
<text x="209.5" y="832.0" text-anchor="end">1.4</text>
<text x="209.5" y="627.0" text-anchor="end">1.5</text>
<text x="209.5" y="422.0" text-anchor="end">1.6</text>
<text x="209.5" y="217.0" text-anchor="end">1.7</text>
<line x1="1372" y1="241.1" x2="1525" y2="241.1" stroke="#ff0000" stroke-width="7" shape-rendering="crispEdges"/>
<text x="1544.2" y="264.8">500°C</text>
<line x1="1372" y1="324.2" x2="1525" y2="324.2" stroke="#000" stroke-width="7" shape-rendering="crispEdges"/>
<text x="1544.2" y="347.9">400°C</text>
<line x1="1372" y1="407.3" x2="1525" y2="407.3" stroke="#00ff00" stroke-width="7" shape-rendering="crispEdges"/>
<text x="1544.2" y="431.0">300°C</text>
<line x1="1372" y1="490.4" x2="1525" y2="490.4" stroke="#0000ff" stroke-width="7" shape-rendering="crispEdges"/>
<text x="1544.2" y="514.1">140°C</text>
<text x="388.4" y="954.6">E<tspan font-size="55" dy="18">S</tspan><tspan dy="-18"> =</tspan></text>
<text x="388.9" y="1055.3">0.115 eV</text>
</g>
<text x="822.6" y="104.3" font-family='"Liberation Sans", sans-serif' font-size="68.1" font-weight="bold">Ga droplets</text>
<text x="29" y="103.5" font-family='"Liberation Sans", sans-serif' font-size="74" font-weight="bold" textLength="63" lengthAdjust="spacingAndGlyphs">a)</text>
<text x="857.9" y="1285.2" font-family='"Liberation Sans", sans-serif' font-size="80">E<tspan font-size="65" dy="20.9">S</tspan><tspan dy="-20.9"> [eV]</tspan></text>
<text transform="translate(75.3 753.2) rotate(-90)" font-family='"Liberation Sans", sans-serif' font-size="80">E<tspan font-size="65" dy="20.8">E</tspan><tspan dy="-20.8"> [eV]</tspan></text>
</g>
<rect x="4" y="1332" width="1769" height="7" fill="#000" shape-rendering="crispEdges"/>
<g id="plotB">
<rect x="278.0" y="2087.9" width="27.0" height="27.0" fill="#000" shape-rendering="crispEdges"/>
<rect x="288.0" y="2057.9" width="27.0" height="27.0" fill="#000" shape-rendering="crispEdges"/>
<rect x="303.9" y="2016.9" width="27.0" height="27.0" fill="#000" shape-rendering="crispEdges"/>
<rect x="320.1" y="1996.9" width="27.0" height="27.0" fill="#000" shape-rendering="crispEdges"/>
<rect x="339.0" y="1972.2" width="27.0" height="27.0" fill="#000" shape-rendering="crispEdges"/>
<rect x="352.1" y="1972.0" width="27.0" height="27.0" fill="#000" shape-rendering="crispEdges"/>
<rect x="365.1" y="1921.0" width="27.0" height="27.0" fill="#000" shape-rendering="crispEdges"/>
<rect x="387.0" y="1938.0" width="27.0" height="27.0" fill="#000" shape-rendering="crispEdges"/>
<rect x="419.2" y="1892.2" width="27.0" height="27.0" fill="#000" shape-rendering="crispEdges"/>
<rect x="464.8" y="1868.0" width="27.0" height="27.0" fill="#000" shape-rendering="crispEdges"/>
<rect x="518.8" y="1860.0" width="27.0" height="27.0" fill="#000" shape-rendering="crispEdges"/>
<rect x="531.1" y="1766.6" width="27.0" height="27.0" fill="#000" shape-rendering="crispEdges"/>
<rect x="543.3" y="1765.0" width="27.0" height="27.0" fill="#000" shape-rendering="crispEdges"/>
<rect x="568.9" y="1726.7" width="27.0" height="27.0" fill="#000" shape-rendering="crispEdges"/>
<rect x="568.9" y="1678.8" width="27.0" height="27.0" fill="#000" shape-rendering="crispEdges"/>
<rect x="583.0" y="1615.8" width="27.0" height="27.0" fill="#000" shape-rendering="crispEdges"/>
<rect x="612.5" y="1638.8" width="27.0" height="27.0" fill="#000" shape-rendering="crispEdges"/>
<rect x="660.9" y="1539.0" width="27.0" height="27.0" fill="#000" shape-rendering="crispEdges"/>
<rect x="778.8" y="1456.0" width="27.0" height="27.0" fill="#000" shape-rendering="crispEdges"/>
<path d="M307.4,2159.7 L307.9,2157.8 L308.5,2155.8 L309.1,2153.9 L309.6,2151.9 L310.2,2150.0 L310.8,2148.0 L311.3,2146.1 L311.9,2144.1 L312.5,2142.2 L313.0,2140.2 L313.6,2138.3 L314.1,2136.3 L314.7,2134.4 L315.3,2132.4 L315.8,2130.5 L316.4,2128.5 L317.0,2126.6 L317.5,2124.6 L318.1,2122.7 L318.7,2120.7 L319.2,2118.8 L319.8,2116.8 L320.4,2114.9 L320.9,2112.9 L321.5,2111.0 L322.1,2109.0 L322.6,2107.1 L323.2,2105.1 L323.8,2103.2 L324.3,2101.3 L324.9,2099.3 L325.5,2097.4 L326.0,2095.4 L326.6,2093.5 L327.2,2091.5 L327.8,2089.6 L328.3,2087.7 L328.9,2085.7 L329.5,2083.8 L330.0,2081.8 L330.6,2079.9 L331.2,2078.0 L331.7,2076.0 L332.3,2074.1 L332.9,2072.1 L333.5,2070.2 L334.0,2068.3 L334.6,2066.3 L335.2,2064.4 L335.8,2062.5 L336.3,2060.5 L336.9,2058.6 L337.5,2056.6 L338.1,2054.7 L338.6,2052.8 L339.2,2050.8 L339.8,2048.9 L340.4,2047.0 L340.9,2045.0 L341.5,2043.1 L342.1,2041.2 L342.7,2039.2 L343.3,2037.3 L343.8,2035.4 L344.4,2033.4 L345.0,2031.5 L345.6,2029.6 L346.2,2027.6 L346.7,2025.7 L347.3,2023.8 L347.9,2021.8 L348.5,2019.9 L349.1,2018.0 L349.7,2016.1 L350.2,2014.1 L350.8,2012.2 L351.4,2010.3 L352.0,2008.3 L352.6,2006.4 L353.2,2004.5 L353.8,2002.6 L354.3,2000.6 L354.9,1998.7 L355.5,1996.8 L356.1,1994.8 L356.7,1992.9 L357.3,1991.0 L357.9,1989.1 L358.5,1987.1 L359.1,1985.2 L359.7,1983.3 L360.3,1981.4 L360.9,1979.4 L361.5,1977.5 L362.1,1975.6 L362.7,1973.7 L363.3,1971.8 L363.9,1969.8 L364.5,1967.9 L365.1,1966.0 L365.7,1964.1 L366.3,1962.1 L366.9,1960.2 L367.5,1958.3 L368.1,1956.4 L368.7,1954.5 L369.3,1952.5 L369.9,1950.6 L370.5,1948.7 L371.1,1946.8 L371.7,1944.9 L372.3,1942.9 L372.9,1941.0 L373.5,1939.1 L374.2,1937.2 L374.8,1935.3 L375.4,1933.3 L376.0,1931.4 L376.6,1929.5 L377.2,1927.6 L377.8,1925.7 L378.5,1923.8 L379.1,1921.8 L379.7,1919.9 L380.3,1918.0 L380.9,1916.1 L381.6,1914.2 L382.2,1912.3 L382.8,1910.3 L383.4,1908.4 L384.1,1906.5 L384.7,1904.6 L385.3,1902.7 L386.0,1900.8 L386.6,1898.9 L387.2,1896.9 L387.8,1895.0 L388.5,1893.1 L389.1,1891.2 L389.8,1889.3 L390.4,1887.4 L391.0,1885.5 L391.7,1883.5 L392.3,1881.6 L392.9,1879.7 L393.6,1877.8 L394.2,1875.9 L394.9,1874.0 L395.5,1872.1 L396.2,1870.2 L396.8,1868.3 L397.5,1866.3 L398.1,1864.4 L398.8,1862.5 L399.4,1860.6 L400.1,1858.7 L400.7,1856.8 L401.4,1854.9 L402.0,1853.0 L402.7,1851.1 L403.3,1849.2 L404.0,1847.2 L404.6,1845.3 L405.3,1843.4 L406.0,1841.5 L406.6,1839.6 L407.3,1837.7 L408.0,1835.8 L408.6,1833.9 L409.3,1832.0 L410.0,1830.1 L410.6,1828.2 L411.3,1826.3 L412.0,1824.4 L412.7,1822.5 L413.3,1820.5 L414.0,1818.6 L414.7,1816.7 L415.4,1814.8 L416.1,1812.9 L416.7,1811.0 L417.4,1809.1 L418.1,1807.2 L418.8,1805.3 L419.5,1803.4 L420.2,1801.5 L420.9,1799.6 L421.5,1797.7 L422.2,1795.8 L422.9,1793.9 L423.6,1792.0 L424.3,1790.1 L425.0,1788.2 L425.7,1786.3 L426.4,1784.4 L427.1,1782.5 L427.8,1780.6 L428.5,1778.7 L429.2,1776.8 L430.0,1774.8 L430.7,1772.9 L431.4,1771.0 L432.1,1769.1 L432.8,1767.2 L433.5,1765.3 L434.2,1763.4 L435.0,1761.5 L435.7,1759.6 L436.4,1757.7 L437.1,1755.8 L437.9,1753.9 L438.6,1752.0 L439.3,1750.1 L440.0,1748.3 L440.8,1746.4 L441.5,1744.5 L442.3,1742.6 L443.0,1740.7 L443.8,1738.8 L444.5,1736.9 L445.3,1735.0 L446.0,1733.1 L446.8,1731.2 L447.5,1729.3 L448.3,1727.5 L449.1,1725.6 L449.8,1723.7 L450.6,1721.8 L451.4,1719.9 L452.1,1718.1 L452.9,1716.2 L453.7,1714.3 L454.5,1712.4 L455.3,1710.6 L456.1,1708.7 L456.9,1706.8 L457.7,1705.0 L458.5,1703.1 L459.3,1701.3 L460.1,1699.4 L460.9,1697.5 L461.8,1695.7 L462.6,1693.8 L463.4,1692.0 L464.2,1690.1 L465.1,1688.3 L465.9,1686.4 L466.8,1684.6 L467.6,1682.8 L468.5,1680.9 L469.3,1679.1 L470.2,1677.3 L471.1,1675.4 L471.9,1673.6 L472.8,1671.8 L473.7,1670.0 L474.6,1668.2 L475.5,1666.4 L476.4,1664.5 L477.3,1662.7 L478.2,1660.9 L479.1,1659.1 L480.0,1657.3 L480.9,1655.5 L481.9,1653.8 L482.8,1652.0 L483.7,1650.2 L484.7,1648.4 L485.6,1646.6 L486.6,1644.8 L487.6,1643.1 L488.5,1641.3 L489.5,1639.6 L490.5,1637.8 L491.5,1636.0 L492.5,1634.3 L493.5,1632.5 L494.5,1630.8 L495.5,1629.1 L496.5,1627.3 L497.5,1625.6 L498.5,1623.9 L499.6,1622.1 L500.6,1620.4 L501.7,1618.7 L502.7,1617.0 L503.8,1615.3 L504.8,1613.6 L505.9,1611.9 L507.0,1610.2 L508.1,1608.5 L509.2,1606.8 L510.3,1605.1 L511.4,1603.5 L512.5,1601.8 L513.6,1600.1 L514.8,1598.5 L515.9,1596.8 L517.1,1595.2 L518.2,1593.5 L519.4,1591.9 L520.5,1590.3 L521.7,1588.6 L522.9,1587.0 L524.1,1585.4 L525.3,1583.8 L526.5,1582.2 L527.7,1580.6 L529.0,1579.0 L530.2,1577.4 L531.4,1575.8 L532.7,1574.2 L533.9,1572.6 L535.2,1571.1 L536.5,1569.5 L537.7,1567.9 L539.0,1566.4 L540.3,1564.8 L541.6,1563.3 L543.0,1561.8 L544.3,1560.3 L545.6,1558.7 L547.0,1557.2 L548.3,1555.7 L549.7,1554.3 L551.0,1552.8 L552.4,1551.3 L553.8,1549.8 L555.2,1548.4 L556.6,1546.9 L558.0,1545.5 L559.4,1544.1 L560.8,1542.6 L562.2,1541.2 L563.7,1539.8 L565.1,1538.4 L566.6,1537.0 L568.1,1535.7 L569.5,1534.3 L571.0,1532.9 L572.5,1531.6 L574.0,1530.3 L575.5,1528.9 L577.1,1527.6 L578.6,1526.3 L580.1,1525.0 L581.7,1523.8 L583.2,1522.5 L584.8,1521.2 L586.4,1520.0 L588.0,1518.8 L589.6,1517.5 L591.2,1516.3 L592.8,1515.1 L594.4,1513.9 L596.0,1512.8 L597.7,1511.6 L599.3,1510.5 L601.0,1509.3 L602.7,1508.2 L604.3,1507.1 L606.0,1506.0 L607.7,1504.9 L609.4,1503.9 L611.1,1502.8 L612.9,1501.8 L614.6,1500.7 L616.3,1499.7 L618.1,1498.7 L619.9,1497.8 L621.6,1496.8 L623.4,1495.8 L625.2,1494.9 L627.0,1494.0 L628.8,1493.1 L630.6,1492.2 L632.5,1491.3 L634.3,1490.5 L636.2,1489.6 L638.0,1488.8 L639.9,1488.0 L641.8,1487.2 L643.7,1486.4 L645.6,1485.7 L647.5,1484.9 L649.4,1484.2 L651.3,1483.5 L653.3,1482.8 L655.2,1482.1 L657.2,1481.5 L659.2,1480.8 L661.1,1480.2 L663.1,1479.6 L665.1,1479.0 L667.2,1478.5 L669.2,1477.9 L671.2,1477.4 L673.3,1476.9 L675.3,1476.4" fill="none" stroke="#0000ff" stroke-width="5.5" pathLength="812.4" stroke-dasharray="20.4 23.6"/>
<path d="M291.6,2085.5 L292.7,2083.9 L293.9,2082.2 L295.1,2080.6 L296.3,2079.0 L297.5,2077.3 L298.6,2075.7 L299.8,2074.1 L301.0,2072.4 L302.2,2070.8 L303.3,2069.1 L304.5,2067.5 L305.7,2065.9 L306.9,2064.2 L308.0,2062.6 L309.2,2060.9 L310.4,2059.3 L311.6,2057.7 L312.8,2056.0 L313.9,2054.4 L315.1,2052.8 L316.3,2051.1 L317.5,2049.5 L318.6,2047.9 L319.8,2046.2 L321.0,2044.6 L322.2,2043.0 L323.4,2041.3 L324.6,2039.7 L325.7,2038.1 L326.9,2036.4 L328.1,2034.8 L329.3,2033.2 L330.5,2031.5 L331.7,2029.9 L332.9,2028.3 L334.0,2026.7 L335.2,2025.0 L336.4,2023.4 L337.6,2021.8 L338.8,2020.2 L340.0,2018.5 L341.2,2016.9 L342.4,2015.3 L343.6,2013.7 L344.8,2012.0 L346.0,2010.4 L347.2,2008.8 L348.4,2007.2 L349.6,2005.6 L350.8,2004.0 L352.0,2002.3 L353.2,2000.7 L354.4,1999.1 L355.6,1997.5 L356.8,1995.9 L358.1,1994.3 L359.3,1992.7 L360.5,1991.1 L361.7,1989.5 L362.9,1987.9 L364.1,1986.3 L365.4,1984.7 L366.6,1983.1 L367.8,1981.5 L369.0,1979.9 L370.3,1978.3 L371.5,1976.7 L372.7,1975.1 L374.0,1973.5 L375.2,1971.9 L376.5,1970.3 L377.7,1968.7 L378.9,1967.2 L380.2,1965.6 L381.4,1964.0 L382.7,1962.4 L383.9,1960.8 L385.2,1959.3 L386.4,1957.7 L387.7,1956.1 L389.0,1954.5 L390.2,1953.0 L391.5,1951.4 L392.8,1949.8 L394.0,1948.3 L395.3,1946.7 L396.6,1945.1 L397.9,1943.6 L399.1,1942.0 L400.4,1940.5 L401.7,1938.9 L403.0,1937.4 L404.3,1935.8 L405.6,1934.3 L406.9,1932.7 L408.2,1931.2 L409.5,1929.6 L410.8,1928.1 L412.1,1926.6 L413.4,1925.0 L414.7,1923.5 L416.0,1921.9 L417.3,1920.4 L418.6,1918.9 L419.9,1917.3 L421.2,1915.8 L422.5,1914.3 L423.8,1912.7 L425.2,1911.2 L426.5,1909.7 L427.8,1908.1 L429.1,1906.6 L430.4,1905.1 L431.7,1903.5 L433.1,1902.0 L434.4,1900.5 L435.7,1899.0 L437.0,1897.4 L438.3,1895.9 L439.7,1894.4 L441.0,1892.9 L442.3,1891.3 L443.6,1889.8 L444.9,1888.3 L446.2,1886.7 L447.6,1885.2 L448.9,1883.7 L450.2,1882.2 L451.5,1880.6 L452.8,1879.1 L454.2,1877.6 L455.5,1876.0 L456.8,1874.5 L458.1,1873.0 L459.4,1871.4 L460.7,1869.9 L462.0,1868.4 L463.3,1866.8 L464.6,1865.3 L466.0,1863.8 L467.3,1862.2 L468.6,1860.7 L469.9,1859.1 L471.2,1857.6 L472.5,1856.1 L473.8,1854.5 L475.1,1853.0 L476.4,1851.4 L477.6,1849.9 L478.9,1848.3 L480.2,1846.8 L481.5,1845.2 L482.8,1843.6 L484.1,1842.1 L485.3,1840.5 L486.6,1839.0 L487.9,1837.4 L489.2,1835.8 L490.4,1834.3 L491.7,1832.7 L493.0,1831.1 L494.2,1829.6 L495.5,1828.0 L496.7,1826.4 L498.0,1824.8 L499.2,1823.2 L500.5,1821.6 L501.7,1820.1 L502.9,1818.5 L504.2,1816.9 L505.4,1815.3 L506.6,1813.7 L507.8,1812.1 L509.0,1810.5 L510.3,1808.9 L511.5,1807.2 L512.7,1805.6 L513.9,1804.0 L515.1,1802.4 L516.3,1800.8 L517.4,1799.1 L518.6,1797.5 L519.8,1795.9 L521.0,1794.2 L522.1,1792.6 L523.3,1790.9 L524.4,1789.3 L525.6,1787.6 L526.7,1786.0 L527.9,1784.3 L529.0,1782.6 L530.1,1781.0 L531.2,1779.3 L532.3,1777.6 L533.4,1775.9 L534.5,1774.2 L535.6,1772.6 L536.7,1770.9 L537.8,1769.2 L538.9,1767.5 L539.9,1765.7 L541.0,1764.0 L542.0,1762.3 L543.1,1760.6 L544.1,1758.9 L545.1,1757.1 L546.1,1755.4 L547.2,1753.6 L548.2,1751.9 L549.2,1750.2 L550.2,1748.4 L551.1,1746.6 L552.1,1744.9 L553.1,1743.1 L554.1,1741.4 L555.1,1739.6 L556.0,1737.8 L557.0,1736.0 L558.0,1734.3 L558.9,1732.5 L559.9,1730.7 L560.8,1729.0 L561.8,1727.2 L562.7,1725.4 L563.7,1723.6 L564.6,1721.8 L565.6,1720.1 L566.5,1718.3 L567.5,1716.5 L568.4,1714.7 L569.4,1713.0 L570.3,1711.2 L571.3,1709.4 L572.3,1707.6 L573.2,1705.8 L574.2,1704.1 L575.1,1702.3 L576.1,1700.5 L577.0,1698.8 L578.0,1697.0 L579.0,1695.2 L579.9,1693.4 L580.9,1691.7 L581.9,1689.9 L582.9,1688.1 L583.8,1686.4 L584.8,1684.6 L585.8,1682.9 L586.8,1681.1 L587.8,1679.4 L588.8,1677.6 L589.8,1675.9 L590.8,1674.1 L591.8,1672.4 L592.9,1670.6 L593.9,1668.9 L594.9,1667.1 L595.9,1665.4 L597.0,1663.7 L598.0,1662.0 L599.1,1660.2 L600.1,1658.5 L601.2,1656.8 L602.3,1655.1 L603.3,1653.4 L604.4,1651.7 L605.5,1650.0 L606.6,1648.3 L607.7,1646.6 L608.8,1644.9 L609.9,1643.2 L611.0,1641.5 L612.1,1639.8 L613.2,1638.1 L614.3,1636.4 L615.5,1634.8 L616.6,1633.1 L617.8,1631.4 L618.9,1629.8 L620.1,1628.1 L621.2,1626.5 L622.4,1624.8 L623.6,1623.2 L624.7,1621.5 L625.9,1619.9 L627.1,1618.3 L628.3,1616.6 L629.5,1615.0 L630.7,1613.4 L631.9,1611.8 L633.1,1610.2 L634.4,1608.6 L635.6,1607.0 L636.8,1605.4 L638.1,1603.8 L639.3,1602.2 L640.6,1600.6 L641.8,1599.1 L643.1,1597.5 L644.4,1595.9 L645.7,1594.4 L646.9,1592.8 L648.2,1591.3 L649.5,1589.7 L650.8,1588.2 L652.1,1586.7 L653.5,1585.2 L654.8,1583.6 L656.1,1582.1 L657.4,1580.6 L658.8,1579.1 L660.1,1577.6 L661.5,1576.1 L662.8,1574.6 L664.2,1573.2 L665.6,1571.7 L667.0,1570.2 L668.3,1568.8 L669.7,1567.3 L671.1,1565.9 L672.5,1564.4 L674.0,1563.0 L675.4,1561.6 L676.8,1560.1 L678.2,1558.7 L679.7,1557.3 L681.1,1555.9 L682.6,1554.5 L684.0,1553.1 L685.5,1551.7 L686.9,1550.4 L688.4,1549.0 L689.9,1547.6 L691.4,1546.3 L692.9,1544.9 L694.4,1543.6 L695.9,1542.2 L697.4,1540.9 L698.9,1539.5 L700.4,1538.2 L701.9,1536.9 L703.4,1535.5 L705.0,1534.2 L706.5,1532.9 L708.0,1531.6 L709.6,1530.3 L711.1,1529.0 L712.6,1527.7 L714.2,1526.4 L715.7,1525.1 L717.3,1523.8 L718.9,1522.5 L720.4,1521.2 L722.0,1520.0 L723.6,1518.7 L725.1,1517.4 L726.7,1516.2 L728.3,1514.9 L729.9,1513.6 L731.4,1512.4 L733.0,1511.1 L734.6,1509.9 L736.2,1508.6 L737.8,1507.4 L739.4,1506.1 L741.0,1504.9 L742.6,1503.6 L744.2,1502.4 L745.7,1501.1 L747.3,1499.9 L748.9,1498.7 L750.5,1497.4 L752.1,1496.2 L753.7,1495.0 L755.3,1493.7 L756.9,1492.5 L758.5,1491.3 L760.1,1490.0 L761.7,1488.8 L763.3,1487.6 L765.0,1486.4 L766.6,1485.1 L768.2,1483.9 L769.8,1482.7 L771.4,1481.5 L773.0,1480.2 L774.5,1479.0 L776.1,1477.8 L777.7,1476.6 L779.3,1475.3 L780.9,1474.1 L782.5,1472.9 L784.1,1471.7 L785.7,1470.4 L787.3,1469.2 L788.9,1468.0 L790.5,1466.7 L792.0,1465.5 L793.6,1464.3" fill="none" stroke="#00ff00" stroke-width="5.5"/>
<path d="M398.4,2151.1 L399.0,2149.1 L399.5,2147.2 L400.1,2145.2 L400.7,2143.3 L401.2,2141.3 L401.8,2139.4 L402.4,2137.4 L403.0,2135.5 L403.6,2133.5 L404.1,2131.6 L404.7,2129.6 L405.3,2127.7 L405.9,2125.7 L406.5,2123.8 L407.1,2121.8 L407.7,2119.9 L408.3,2118.0 L408.9,2116.0 L409.5,2114.1 L410.1,2112.1 L410.8,2110.2 L411.4,2108.3 L412.0,2106.3 L412.6,2104.4 L413.2,2102.5 L413.8,2100.5 L414.5,2098.6 L415.1,2096.7 L415.7,2094.7 L416.4,2092.8 L417.0,2090.9 L417.6,2089.0 L418.3,2087.0 L418.9,2085.1 L419.5,2083.2 L420.2,2081.3 L420.8,2079.3 L421.5,2077.4 L422.1,2075.5 L422.8,2073.6 L423.4,2071.6 L424.1,2069.7 L424.7,2067.8 L425.4,2065.9 L426.0,2064.0 L426.7,2062.1 L427.4,2060.1 L428.0,2058.2 L428.7,2056.3 L429.4,2054.4 L430.0,2052.5 L430.7,2050.6 L431.4,2048.7 L432.0,2046.7 L432.7,2044.8 L433.4,2042.9 L434.1,2041.0 L434.7,2039.1 L435.4,2037.2 L436.1,2035.3 L436.8,2033.4 L437.5,2031.5 L438.2,2029.6 L438.8,2027.7 L439.5,2025.7 L440.2,2023.8 L440.9,2021.9 L441.6,2020.0 L442.3,2018.1 L443.0,2016.2 L443.7,2014.3 L444.4,2012.4 L445.1,2010.5 L445.8,2008.6 L446.5,2006.7 L447.2,2004.8 L447.9,2002.9 L448.6,2001.0 L449.3,1999.1 L450.0,1997.2 L450.7,1995.3 L451.4,1993.4 L452.1,1991.5 L452.8,1989.6 L453.5,1987.7 L454.2,1985.8 L454.9,1983.9 L455.6,1982.0 L456.3,1980.1 L457.1,1978.2 L457.8,1976.3 L458.5,1974.4 L459.2,1972.5 L459.9,1970.6 L460.6,1968.7 L461.3,1966.8 L462.1,1964.9 L462.8,1963.0 L463.5,1961.1 L464.2,1959.2 L464.9,1957.3 L465.6,1955.4 L466.4,1953.5 L467.1,1951.6 L467.8,1949.8 L468.5,1947.9 L469.2,1946.0 L470.0,1944.1 L470.7,1942.2 L471.4,1940.3 L472.1,1938.4 L472.8,1936.5 L473.6,1934.6 L474.3,1932.7 L475.0,1930.8 L475.7,1928.9 L476.5,1927.0 L477.2,1925.1 L477.9,1923.2 L478.6,1921.3 L479.4,1919.4 L480.1,1917.5 L480.8,1915.6 L481.5,1913.7 L482.3,1911.8 L483.0,1909.9 L483.7,1908.0 L484.4,1906.1 L485.2,1904.2 L485.9,1902.3 L486.6,1900.4 L487.4,1898.5 L488.1,1896.7 L488.8,1894.8 L489.6,1892.9 L490.3,1891.0 L491.0,1889.1 L491.8,1887.2 L492.5,1885.3 L493.2,1883.4 L494.0,1881.5 L494.7,1879.6 L495.5,1877.7 L496.2,1875.8 L496.9,1873.9 L497.7,1872.0 L498.4,1870.2 L499.2,1868.3 L499.9,1866.4 L500.7,1864.5 L501.4,1862.6 L502.2,1860.7 L502.9,1858.8 L503.7,1856.9 L504.4,1855.1 L505.2,1853.2 L506.0,1851.3 L506.7,1849.4 L507.5,1847.5 L508.2,1845.6 L509.0,1843.8 L509.8,1841.9 L510.5,1840.0 L511.3,1838.1 L512.1,1836.2 L512.9,1834.4 L513.6,1832.5 L514.4,1830.6 L515.2,1828.7 L516.0,1826.8 L516.7,1825.0 L517.5,1823.1 L518.3,1821.2 L519.1,1819.4 L519.9,1817.5 L520.7,1815.6 L521.5,1813.7 L522.3,1811.9 L523.1,1810.0 L523.9,1808.1 L524.7,1806.3 L525.5,1804.4 L526.3,1802.6 L527.1,1800.7 L527.9,1798.8 L528.7,1797.0 L529.5,1795.1 L530.4,1793.3 L531.2,1791.4 L532.0,1789.5 L532.8,1787.7 L533.6,1785.8 L534.5,1784.0 L535.3,1782.1 L536.1,1780.3 L537.0,1778.4 L537.8,1776.6 L538.7,1774.7 L539.5,1772.9 L540.4,1771.1 L541.2,1769.2 L542.1,1767.4 L542.9,1765.5 L543.8,1763.7 L544.6,1761.9 L545.5,1760.0 L546.4,1758.2 L547.2,1756.4 L548.1,1754.5 L549.0,1752.7 L549.9,1750.9 L550.8,1749.0 L551.6,1747.2 L552.5,1745.4 L553.4,1743.6 L554.3,1741.8 L555.2,1739.9 L556.1,1738.1 L557.0,1736.3 L557.9,1734.5 L558.8,1732.7 L559.7,1730.9 L560.7,1729.1 L561.6,1727.3 L562.5,1725.4 L563.4,1723.6 L564.4,1721.8 L565.3,1720.0 L566.2,1718.2 L567.2,1716.4 L568.1,1714.6 L569.1,1712.9 L570.0,1711.1 L571.0,1709.3 L571.9,1707.5 L572.9,1705.7 L573.9,1703.9 L574.9,1702.1 L575.8,1700.4 L576.8,1698.6 L577.8,1696.8 L578.8,1695.0 L579.8,1693.3 L580.8,1691.5 L581.8,1689.7 L582.8,1687.9 L583.8,1686.2 L584.8,1684.4 L585.8,1682.7 L586.8,1680.9 L587.8,1679.2 L588.9,1677.4 L589.9,1675.7 L590.9,1673.9 L592.0,1672.2 L593.0,1670.4 L594.1,1668.7 L595.1,1666.9 L596.2,1665.2 L597.2,1663.5 L598.3,1661.8 L599.4,1660.0 L600.5,1658.3 L601.5,1656.6 L602.6,1654.9 L603.7,1653.2 L604.8,1651.5 L605.9,1649.7 L607.0,1648.0 L608.1,1646.3 L609.2,1644.7 L610.3,1643.0 L611.5,1641.3 L612.6,1639.6 L613.7,1637.9 L614.9,1636.2 L616.0,1634.6 L617.2,1632.9 L618.3,1631.2 L619.5,1629.6 L620.6,1627.9 L621.8,1626.2 L623.0,1624.6 L624.2,1622.9 L625.4,1621.3 L626.5,1619.7 L627.7,1618.0 L628.9,1616.4 L630.2,1614.8 L631.4,1613.2 L632.6,1611.5 L633.8,1609.9 L635.0,1608.3 L636.3,1606.7 L637.5,1605.1 L638.8,1603.5 L640.0,1601.9 L641.3,1600.3 L642.5,1598.8 L643.8,1597.2 L645.1,1595.6 L646.4,1594.1 L647.6,1592.5 L648.9,1590.9 L650.2,1589.4 L651.5,1587.8 L652.9,1586.3 L654.2,1584.8 L655.5,1583.2 L656.8,1581.7 L658.2,1580.2 L659.5,1578.7 L660.9,1577.2 L662.2,1575.7 L663.6,1574.2 L664.9,1572.7 L666.3,1571.2 L667.7,1569.7 L669.1,1568.2 L670.5,1566.8 L671.9,1565.3 L673.3,1563.9 L674.7,1562.4 L676.1,1561.0 L677.5,1559.5 L679.0,1558.1 L680.4,1556.7 L681.8,1555.2 L683.3,1553.8 L684.8,1552.4 L686.2,1551.0 L687.7,1549.6 L689.2,1548.2 L690.6,1546.8 L692.1,1545.5 L693.6,1544.1 L695.1,1542.7 L696.6,1541.3 L698.1,1540.0 L699.6,1538.6 L701.1,1537.3 L702.7,1535.9 L704.2,1534.6 L705.7,1533.2 L707.2,1531.9 L708.8,1530.6 L710.3,1529.2 L711.9,1527.9 L713.4,1526.6 L715.0,1525.3 L716.5,1524.0 L718.1,1522.7 L719.7,1521.4 L721.2,1520.1 L722.8,1518.8 L724.4,1517.5 L726.0,1516.2 L727.5,1514.9 L729.1,1513.6 L730.7,1512.4 L732.3,1511.1 L733.9,1509.8 L735.5,1508.5 L737.1,1507.3 L738.7,1506.0 L740.3,1504.8 L741.9,1503.5 L743.5,1502.3 L745.1,1501.0 L746.8,1499.8 L748.4,1498.5 L750.0,1497.3 L751.6,1496.1 L753.2,1494.8 L754.8,1493.6 L756.5,1492.4 L758.1,1491.1 L759.7,1489.9 L761.3,1488.7 L763.0,1487.5 L764.6,1486.3 L766.2,1485.1 L767.9,1483.8 L769.5,1482.6 L771.1,1481.4 L772.8,1480.2 L774.4,1479.0 L776.0,1477.8 L777.7,1476.6 L779.3,1475.4 L780.9,1474.2 L782.6,1473.0 L784.2,1471.8 L785.8,1470.6 L787.4,1469.4 L789.1,1468.2 L790.7,1467.0 L792.3,1465.8 L794.0,1464.7" fill="none" stroke="#ff0000" stroke-width="5.5" pathLength="812.4" stroke-dasharray="20.4 23.6"/>
<g stroke="#000" fill="none" shape-rendering="crispEdges">
<path d="M244,1354H864V2248H244Z M248.3,1358V2244H859V1358Z" fill="#000" stroke="none" fill-rule="evenodd"/>
<line x1="342.2" y1="2246.0" x2="342.2" y2="2237.2" stroke-width="4.0"/>
<line x1="438.4" y1="2246.0" x2="438.4" y2="2228.0" stroke-width="4.0"/>
<line x1="534.5" y1="2246.0" x2="534.5" y2="2237.2" stroke-width="4.0"/>
<line x1="630.7" y1="2246.0" x2="630.7" y2="2228.0" stroke-width="4.0"/>
<line x1="726.9" y1="2246.0" x2="726.9" y2="2237.2" stroke-width="4.0"/>
<line x1="823.0" y1="2246.0" x2="823.0" y2="2228.0" stroke-width="4.0"/>
<line x1="246.3" y1="2229.2" x2="255.1" y2="2229.2" stroke-width="4.0"/>
<line x1="246.3" y1="2213.7" x2="255.1" y2="2213.7" stroke-width="4.0"/>
<line x1="246.3" y1="2200.0" x2="255.1" y2="2200.0" stroke-width="4.0"/>
<line x1="246.3" y1="2187.8" x2="263.8" y2="2187.8" stroke-width="4.0"/>
<line x1="246.3" y1="2107.4" x2="255.1" y2="2107.4" stroke-width="4.0"/>
<line x1="246.3" y1="2060.4" x2="255.1" y2="2060.4" stroke-width="4.0"/>
<line x1="246.3" y1="2027.0" x2="255.1" y2="2027.0" stroke-width="4.0"/>
<line x1="246.3" y1="2001.2" x2="255.1" y2="2001.2" stroke-width="4.0"/>
<line x1="246.3" y1="1980.0" x2="255.1" y2="1980.0" stroke-width="4.0"/>
<line x1="246.3" y1="1962.2" x2="255.1" y2="1962.2" stroke-width="4.0"/>
<line x1="246.3" y1="1946.7" x2="255.1" y2="1946.7" stroke-width="4.0"/>
<line x1="246.3" y1="1933.0" x2="255.1" y2="1933.0" stroke-width="4.0"/>
<line x1="246.3" y1="1920.8" x2="263.8" y2="1920.8" stroke-width="4.0"/>
<line x1="246.3" y1="1840.4" x2="255.1" y2="1840.4" stroke-width="4.0"/>
<line x1="246.3" y1="1793.4" x2="255.1" y2="1793.4" stroke-width="4.0"/>
<line x1="246.3" y1="1760.0" x2="255.1" y2="1760.0" stroke-width="4.0"/>
<line x1="246.3" y1="1734.2" x2="255.1" y2="1734.2" stroke-width="4.0"/>
<line x1="246.3" y1="1713.0" x2="255.1" y2="1713.0" stroke-width="4.0"/>
<line x1="246.3" y1="1695.2" x2="255.1" y2="1695.2" stroke-width="4.0"/>
<line x1="246.3" y1="1679.7" x2="255.1" y2="1679.7" stroke-width="4.0"/>
<line x1="246.3" y1="1666.0" x2="255.1" y2="1666.0" stroke-width="4.0"/>
<line x1="246.3" y1="1653.8" x2="263.8" y2="1653.8" stroke-width="4.0"/>
<line x1="246.3" y1="1573.4" x2="255.1" y2="1573.4" stroke-width="4.0"/>
<line x1="246.3" y1="1526.4" x2="255.1" y2="1526.4" stroke-width="4.0"/>
<line x1="246.3" y1="1493.0" x2="255.1" y2="1493.0" stroke-width="4.0"/>
<line x1="246.3" y1="1467.2" x2="255.1" y2="1467.2" stroke-width="4.0"/>
<line x1="246.3" y1="1446.0" x2="255.1" y2="1446.0" stroke-width="4.0"/>
<line x1="246.3" y1="1428.2" x2="255.1" y2="1428.2" stroke-width="4.0"/>
<line x1="246.3" y1="1412.7" x2="255.1" y2="1412.7" stroke-width="4.0"/>
<line x1="246.3" y1="1399.0" x2="255.1" y2="1399.0" stroke-width="4.0"/>
<line x1="246.3" y1="1386.8" x2="263.8" y2="1386.8" stroke-width="4.0"/>
</g>
<g font-family='"Liberation Sans", sans-serif' font-size="58" fill="#000">
<text x="245.5" y="2312.7" text-anchor="middle">1.0</text>
<text x="437.9" y="2312.7" text-anchor="middle">1.5</text>
<text x="630.2" y="2312.7" text-anchor="middle">2.0</text>
<text x="822.5" y="2312.7" text-anchor="middle">2.5</text>
<text x="225.8" y="2209.3" text-anchor="end">10<tspan font-size="41" dy="-24.4">8</tspan></text>
<text x="225.8" y="1942.3" text-anchor="end">10<tspan font-size="41" dy="-24.4">9</tspan></text>
<text x="225.8" y="1675.3" text-anchor="end">10<tspan font-size="41" dy="-24.4">10</tspan></text>
<text x="225.8" y="1408.3" text-anchor="end">10<tspan font-size="41" dy="-24.4">11</tspan></text>
</g>
<text x="399.4" y="1409.1" font-family='"Liberation Sans", sans-serif' font-size="51.7">Ga droplets</text>
<text x="29.5" y="1508" font-family='"Liberation Sans", sans-serif' font-size="74" font-weight="bold" textLength="65" lengthAdjust="spacingAndGlyphs">b)</text>
<text x="323.3" y="2406.6" font-family='"Liberation Sans", sans-serif' font-size="77.5">1/T [1000/K]</text>
<text transform="translate(82 2029.2) rotate(-90)" font-family='"Liberation Sans", sans-serif' font-size="78">N<tspan font-size="63.5" dy="21.1">D</tspan><tspan dy="-21.1"> [cm</tspan><tspan font-size="53" dy="-32">-2</tspan><tspan dy="32">]</tspan></text>
<g font-family='"Liberation Sans", sans-serif' font-size="47.5" fill="#000">
<line x1="491.8" y1="2053" x2="599.1" y2="2053" stroke="#ff0000" stroke-width="6" stroke-dasharray="20.4 23.6" shape-rendering="crispEdges"/>
<line x1="491.8" y1="2121.5" x2="599.1" y2="2121.5" stroke="#0000ff" stroke-width="5.5" stroke-dasharray="20.4 23.6" shape-rendering="crispEdges"/>
<line x1="491.8" y1="2189.8" x2="599.1" y2="2189.8" stroke="#00ff00" stroke-width="6.5" shape-rendering="crispEdges"/>
<text x="612.2" y="2068.9">E<tspan font-size="30" dy="11.9">E</tspan><tspan dy="-11.9">=1.51eV</tspan></text>
<text x="612.2" y="2137.4">E<tspan font-size="30" dy="11.9">E</tspan><tspan dy="-11.9">=1.71eV</tspan></text>
<text x="612.2" y="2205.7">E<tspan font-size="30" dy="11.9">E</tspan><tspan dy="-11.9"> = T-dep.</tspan></text>
</g>
</g>
<g id="plotC">
<line x1="1242.8" y1="2162.9" x2="1255.2" y2="2162.9" stroke="#000" stroke-width="3.1" stroke-dasharray="11.2 10.8"/>
<line x1="1306.8" y1="2162.9" x2="1363.2" y2="2162.9" stroke="#000" stroke-width="3.1" stroke-dasharray="11.2 10.8"/>
<line x1="1399.7" y1="2139.4" x2="1486.3" y2="1949.1" stroke="#000" stroke-width="3.1" stroke-dasharray="11.2 10.8"/>
<line x1="1506.9" y1="1901.8" x2="1595.1" y2="1688.4" stroke="#000" stroke-width="3.1" stroke-dasharray="11.2 10.8"/>
<line x1="1616.6" y1="1641.5" x2="1701.4" y2="1474.0" stroke="#000" stroke-width="3.1" stroke-dasharray="11.2 10.8"/>
<rect x="1200.0" y="2145.9" width="34.0" height="34.0" fill="#000" shape-rendering="crispEdges"/>
<rect x="1264.0" y="2145.9" width="34.0" height="34.0" fill="#000" shape-rendering="crispEdges"/>
<rect x="1372.0" y="2145.9" width="34.0" height="34.0" fill="#000" shape-rendering="crispEdges"/>
<rect x="1480.0" y="1908.6" width="34.0" height="34.0" fill="#000" shape-rendering="crispEdges"/>
<rect x="1588.0" y="1647.5" width="34.0" height="34.0" fill="#000" shape-rendering="crispEdges"/>
<rect x="1696.0" y="1433.9" width="34.0" height="34.0" fill="#000" shape-rendering="crispEdges"/>
<g stroke="#000" fill="none" shape-rendering="crispEdges">
<path d="M1150,1354H1770V2248H1150Z M1154.3,1358V2244H1765V1358Z" fill="#000" stroke="none" fill-rule="evenodd"/>
<line x1="1173.5" y1="2245.8" x2="1173.5" y2="2237.2" stroke-width="5.0"/>
<line x1="1281.5" y1="2245.8" x2="1281.5" y2="2228.3" stroke-width="5.0"/>
<line x1="1389.5" y1="2245.8" x2="1389.5" y2="2237.2" stroke-width="5.0"/>
<line x1="1497.5" y1="2245.8" x2="1497.5" y2="2228.3" stroke-width="5.0"/>
<line x1="1605.5" y1="2245.8" x2="1605.5" y2="2237.2" stroke-width="5.0"/>
<line x1="1713.5" y1="2245.8" x2="1713.5" y2="2228.3" stroke-width="5.0"/>
<line x1="1152.2" y1="2186.7" x2="1170.2" y2="2186.7" stroke-width="4.0"/>
<line x1="1152.2" y1="2068.0" x2="1160.9" y2="2068.0" stroke-width="4.0"/>
<line x1="1152.2" y1="1949.3" x2="1170.2" y2="1949.3" stroke-width="4.0"/>
<line x1="1152.2" y1="1830.7" x2="1160.9" y2="1830.7" stroke-width="4.0"/>
<line x1="1152.2" y1="1712.0" x2="1170.2" y2="1712.0" stroke-width="4.0"/>
<line x1="1152.2" y1="1593.3" x2="1160.9" y2="1593.3" stroke-width="4.0"/>
<line x1="1152.2" y1="1474.7" x2="1170.2" y2="1474.7" stroke-width="4.0"/>
</g>
<g font-family='"Liberation Sans", sans-serif' font-size="59.3" fill="#000">
<text x="1280.8" y="2312.6" text-anchor="middle">200</text>
<text x="1496.8" y="2312.6" text-anchor="middle">400</text>
<text x="1712.8" y="2312.6" text-anchor="middle">600</text>
<text x="1131" y="2204.2" text-anchor="end">1.5</text>
<text x="1131" y="1966.8" text-anchor="end">1.6</text>
<text x="1131" y="1729.5" text-anchor="end">1.7</text>
<text x="1131" y="1492.2" text-anchor="end">1.8</text>
</g>
<text x="1333.5" y="1409" font-family='"Liberation Sans", sans-serif' font-size="51.7">Ga droplets</text>
<text x="949" y="1466" font-family='"Liberation Sans", sans-serif' font-size="74" font-weight="bold" textLength="58" lengthAdjust="spacingAndGlyphs">c)</text>
<text x="1370.5" y="2398.8" font-family='"Liberation Sans", sans-serif' font-size="77" letter-spacing="0.5">T [°C]</text>
<text transform="translate(1003.9 1953.1) rotate(-90)" font-family='"Liberation Sans", sans-serif' font-size="78">E<tspan font-size="63" dy="21.2">E</tspan><tspan dy="-21.2"> [eV]</tspan></text>
</g>
</svg>
</body></html>
